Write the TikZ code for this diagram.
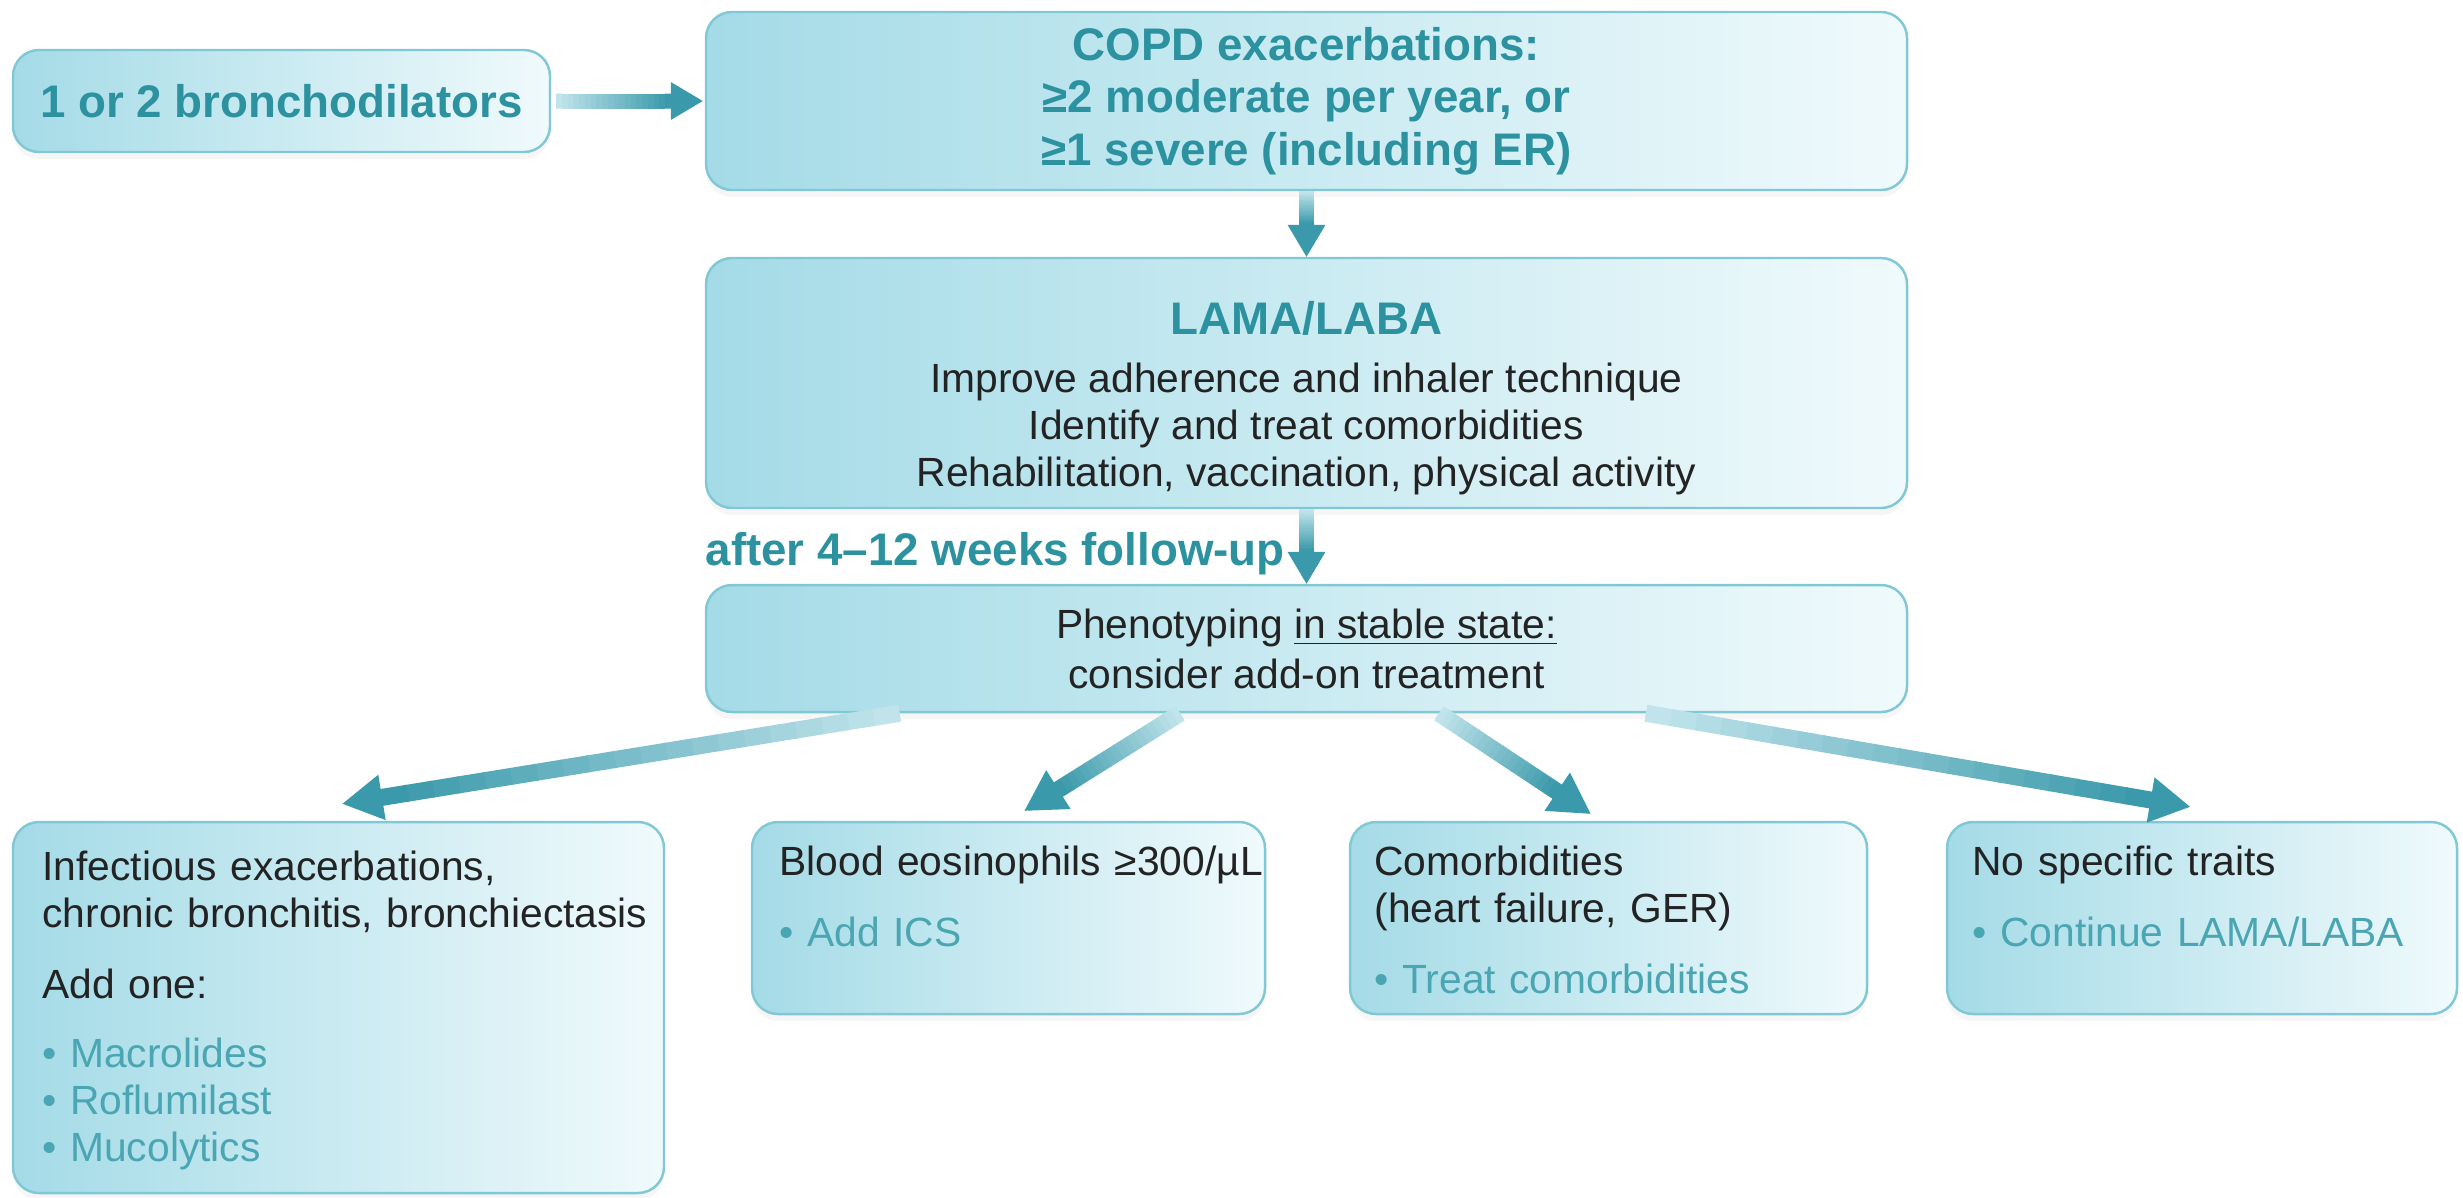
\documentclass[tikz,border=0pt]{standalone}
\usepackage{fontspec}
\setmainfont{Liberation Sans}
\usetikzlibrary{arrows.meta,calc,shadows}
\definecolor{HeadClr}{RGB}{44,146,160}
\definecolor{ItemClr}{RGB}{74,166,178}
\definecolor{TextClr}{RGB}{35,35,35}
\definecolor{BoxLine}{RGB}{128,200,213}
\definecolor{BoxLeft}{RGB}{164,219,231}
\definecolor{BoxRight}{RGB}{240,250,252}
\definecolor{ArrowDark}{RGB}{58,153,170}
\definecolor{ArrowLight}{RGB}{200,232,239}

\newcommand{\headfont}{\fontsize{13}{15}\selectfont\bfseries}
\newcommand{\bodyfont}{\fontsize{11.6}{13.4}\selectfont}
\newcommand{\treatItem}[1]{{\color{ItemClr}\textbullet\ #1}}

% shaded arrow: shaft, tip length, tip half width, from, to
\newcommand{\fadeArrow}[5]{%
  \coordinate (fb) at ($(#5)!#2!(#4)$);
  \foreach \k in {0,...,19}{%
    \pgfmathtruncatemacro{\mix}{5+5*\k}%
    \draw[line width=#1, ArrowDark!\mix!ArrowLight] ($(#4)!\k/20!(fb)$) -- ($(#4)!\k/20+0.053!(fb)$);
  }
  \fill[ArrowDark] (#5) -- ($(fb)!#3!90:(#5)$) -- ($(fb)!#3!-90:(#5)$) -- cycle;
}

\begin{document}
\begin{tikzpicture}[x=1cm,y=1cm]
\tikzset{
  card/.style={draw=BoxLine, line width=0.7pt, rounded corners=0.26cm,
    left color=BoxLeft, right color=BoxRight,
    drop shadow={opacity=0.07, shadow xshift=0cm, shadow yshift=-0.07cm}},
  head/.style={font=\headfont, text=HeadClr},
  body/.style={font=\bodyfont, text=TextClr},
  leaf/.style={body, anchor=base west, align=left, text width=6.3cm, inner sep=0pt}
}
\useasboundingbox (0,0) rectangle (24.63,-11.97);

% top column
\node[card, head, minimum width=5.37cm, minimum height=1.02cm] (bron) at (2.815,-1.01) {1 or 2 bronchodilators};
\node[card, head, align=center, minimum width=12.01cm, minimum height=1.78cm] (copd) at (13.065,-1.01)
  {COPD exacerbations:\\ ≥2 moderate per year, or\\ ≥1 severe (including ER)};
\node[card, minimum width=12.01cm, minimum height=2.50cm] (lama) at (13.065,-3.83) {};
\node[body, align=center] (lamaTxt) at ($(lama.center)+(0,-0.15)$)
  {{\headfont\color{HeadClr}LAMA/LABA}\\[3pt]
   Improve adherence and inhaler technique\\
   Identify and treat comorbidities\\
   Rehabilitation, vaccination, physical activity};
\node[head, anchor=base west, inner sep=0pt] (after) at (7.05,-5.65) {after 4–12 weeks follow-up};
\node[card, body, align=center, minimum width=12.01cm, minimum height=1.27cm] (pheno) at (13.065,-6.485)
  {Phenotyping \underline{in stable state:}\\[0.8pt] consider add-on treatment};

% bottom row
\node[card, minimum width=6.51cm, minimum height=3.71cm] (infect) at (3.385,-10.075) {};
\node[card, minimum width=5.13cm, minimum height=1.92cm] (eos) at (10.085,-9.18) {};
\node[card, minimum width=5.17cm, minimum height=1.92cm] (comor) at (16.085,-9.18) {};
\node[card, minimum width=5.10cm, minimum height=1.92cm] (nospec) at (22.02,-9.18) {};

\node[leaf] (infectTxt) at ($(infect.north west)+(0.30,-0.60)$)
  {Infectious exacerbations,\\ chronic bronchitis, bronchiectasis\\[6.6pt]
   Add one:\\[6.2pt]
   \treatItem{Macrolides}\\ \treatItem{Roflumilast}\\ \treatItem{Mucolytics}};
\node[leaf] (eosTxt) at ($(eos.north west)+(0.28,-0.55)$)
  {Blood eosinophils ≥300/µL\\[6.8pt] \treatItem{Add ICS}};
\node[leaf] (comorTxt) at ($(comor.north west)+(0.25,-0.55)$)
  {Comorbidities\\ (heart failure, GER)\\[6.6pt] \treatItem{Treat comorbidities}};
\node[leaf] (nospecTxt) at ($(nospec.north west)+(0.26,-0.55)$)
  {No specific traits\\[6.6pt] \treatItem{Continue LAMA/LABA}};

% connectors
\coordinate (a0) at ($(bron.east)+(0.05,0)$);
\coordinate (a1) at ($(copd.west)+(-0.02,0)$);
\fadeArrow{0.15cm}{0.32cm}{0.19cm}{a0}{a1}
\fadeArrow{0.15cm}{0.32cm}{0.19cm}{copd.south}{lama.north}
\fadeArrow{0.15cm}{0.32cm}{0.19cm}{lama.south}{pheno.north}

\coordinate (s1) at ($(pheno.south west)!0.162!(pheno.south east)$);
\coordinate (s2) at ($(pheno.south west)!0.395!(pheno.south east)$);
\coordinate (s3) at ($(pheno.south west)!0.610!(pheno.south east)$);
\coordinate (s4) at ($(pheno.south west)!0.782!(pheno.south east)$);
\coordinate (t1) at ($(infect.north)+(0.04,0.17)$);
\coordinate (t2) at ($(eos.north)+(0.16,0.10)$);
\coordinate (t3) at ($(comor.north)+(-0.18,0.07)$);
\coordinate (t4) at ($(nospec.north)+(-0.12,0.14)$);
\fadeArrow{0.17cm}{0.40cm}{0.23cm}{s1}{t1}
\fadeArrow{0.17cm}{0.40cm}{0.23cm}{s2}{t2}
\fadeArrow{0.17cm}{0.40cm}{0.23cm}{s3}{t3}
\fadeArrow{0.17cm}{0.40cm}{0.23cm}{s4}{t4}

\end{tikzpicture}
\end{document}
